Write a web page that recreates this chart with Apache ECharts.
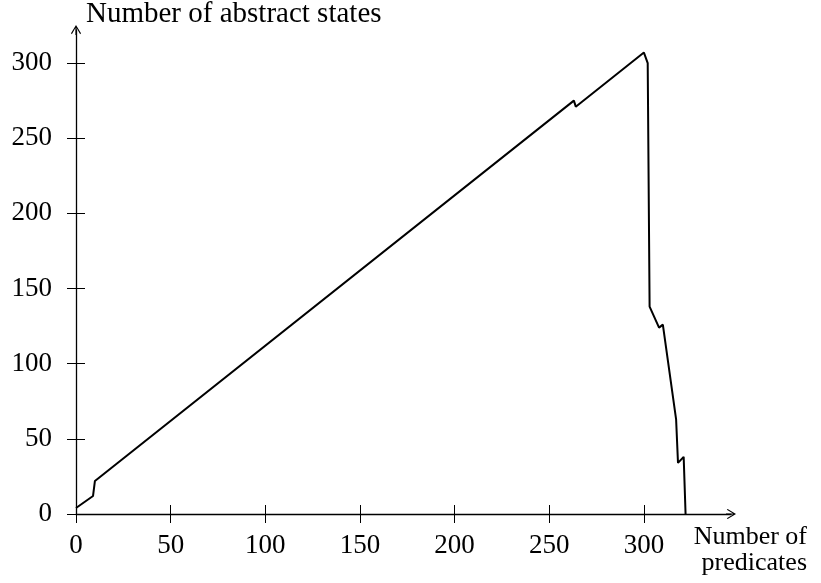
<!DOCTYPE html>
<html><head><meta charset="utf-8">
<script src="https://cdn.jsdelivr.net/npm/echarts@6/dist/echarts.min.js"></script>
<style>html,body{margin:0;padding:0;background:#fff}#c{width:821px;height:583px}</style>
</head><body><div id="c"></div>
<script>
var xValues = [0, 9, 10, 263, 264, 300, 302, 303, 308, 310, 317, 318, 321, 322];
var yValues = [4, 12, 22, 275, 271, 307, 300, 138, 124, 126, 63, 34, 38, 0];
var xTicks = [0, 50, 100, 150, 200, 250, 300];
var yTicks = [0, 50, 100, 150, 200, 250, 300];
var xTitle = 'Number of\npredicates';
var yTitle = 'Number of abstract states';

var FONT = '"Liberation Serif", "DejaVu Serif", serif';
var pts = xValues.map(function (x, i) { return [x, yValues[i]]; });
var arrow = 'path://M0,0 L6,10 L5,11 L0.7,3.5 L0.7,12 L-0.7,12 L-0.7,3.5 L-5,11 L-6,10 Z';
var TICK = 9;

function xa(main) {
  return {
    type: 'value', min: 0, max: 346, position: 'bottom', gridIndex: 0,
    offset: main ? 0 : -TICK,
    axisLine: { show: main, onZero: false, lineStyle: { color: '#000', width: 1.3 },
      symbol: ['none', arrow], symbolSize: [10, 12] },
    axisTick: { show: true, length: TICK, customValues: xTicks, lineStyle: { color: '#000', width: 1 } },
    axisLabel: { show: main, customValues: xTicks, color: '#000', fontFamily: FONT, fontSize: 27, margin: 18 },
    splitLine: { show: false },
    name: main ? xTitle : '', nameLocation: 'end', nameGap: 76,
    nameTextStyle: { color: '#000', fontFamily: FONT, fontSize: 26, align: 'right', verticalAlign: 'top', lineHeight: 26, padding: [10, 0, 0, 0] }
  };
}
function ya(main) {
  return {
    type: 'value', min: 0, max: 322, position: 'left', gridIndex: 0,
    offset: main ? 0 : -TICK,
    axisLine: { show: main, onZero: false, lineStyle: { color: '#000', width: 1.3 },
      symbol: ['none', arrow], symbolSize: [10, 12] },
    axisTick: { show: true, length: TICK, customValues: yTicks, lineStyle: { color: '#000', width: 1 } },
    axisLabel: { show: main, customValues: yTicks, color: '#000', fontFamily: FONT, fontSize: 27, margin: 24 },
    splitLine: { show: false },
    name: main ? yTitle : '', nameLocation: 'end', nameGap: 1,
    nameTextStyle: { color: '#000', fontFamily: FONT, fontSize: 29, align: 'left', verticalAlign: 'bottom', padding: [0, 0, 0, 10] }
  };
}

var chart = echarts.init(document.getElementById('c'), null, { renderer: 'canvas' });
chart.setOption({
  animation: false,
  backgroundColor: '#fff',
  grid: { left: 76, right: 90, top: 28, bottom: 69, containLabel: false },
  xAxis: [xa(true), xa(false)],
  yAxis: [ya(true), ya(false)],
  series: [{
    type: 'line', data: pts, xAxisIndex: 0, yAxisIndex: 0,
    symbol: 'none', lineStyle: { color: '#000', width: 2 }, z: 3
  }, {
    type: 'line', data: pts, xAxisIndex: 1, yAxisIndex: 1, silent: true,
    symbol: 'none', lineStyle: { color: '#000', width: 0, opacity: 0 }, z: 1
  }]
});
</script></body></html>
